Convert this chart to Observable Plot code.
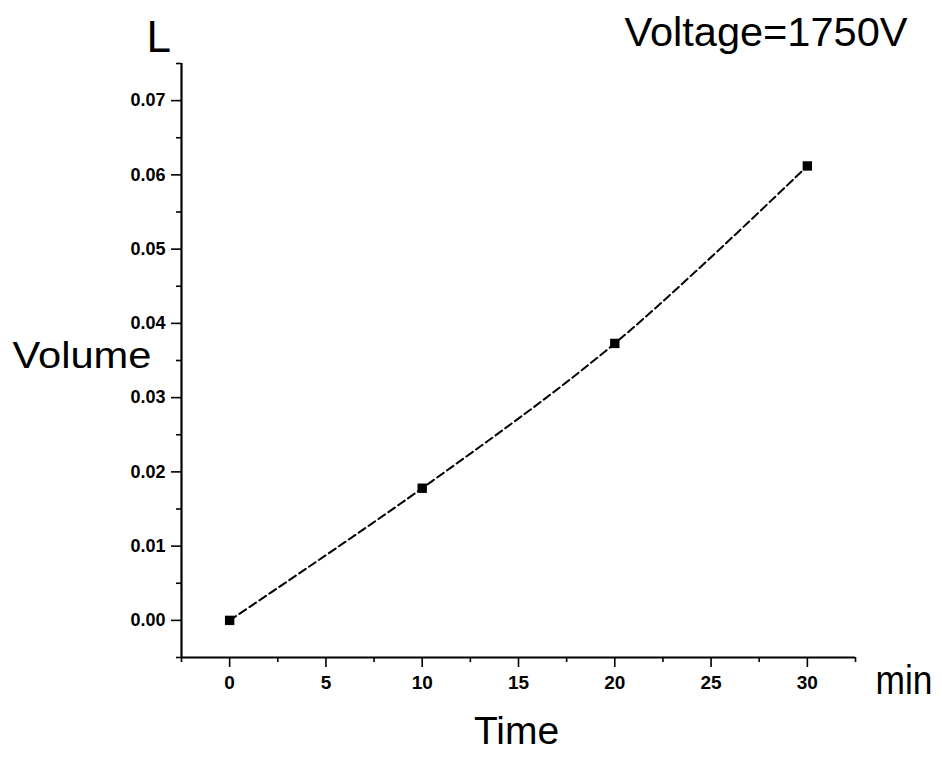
<!DOCTYPE html>
<html>
<head>
<meta charset="utf-8">
<script src="https://cdn.jsdelivr.net/npm/d3@7"></script>
<script src="https://cdn.jsdelivr.net/npm/@observablehq/plot@0.6"></script>
<style>
  html, body { margin: 0; padding: 0; background: #fff; }
  #chart svg { display: block; }
</style>
</head>
<body>
<div id="chart"></div>
<script>
// Data
const timeMin = [0, 10, 20, 30];
const volumeL = [0, 0.0178, 0.0373, 0.0612];

const xMajorTicks = [0, 5, 10, 15, 20, 25, 30];
const xMinorTicks = [-2.5, 2.5, 7.5, 12.5, 17.5, 22.5, 27.5, 32.5];
const yMajorTicks = [0, 0.01, 0.02, 0.03, 0.04, 0.05, 0.06, 0.07];
const yMinorTicks = [-0.005, 0.005, 0.015, 0.025, 0.035, 0.045, 0.055, 0.065, 0.075];

const titleText = ["Voltage=1750V"];
const yUnitText = ["L"];
const xUnitText = ["min"];
const xLabelText = ["Time"];
const yLabelText = ["Volume"];

const xDomain = [-2.5, 32.5];
const yDomain = [-0.005, 0.075];

const data = timeMin.map((t, i) => ({t, v: volumeL[i]}));

const font = "'Liberation Sans', Arial, Helvetica, sans-serif";

const plot = Plot.plot({
  width: 942,
  height: 758,
  marginLeft: 181,
  marginRight: 87,
  marginTop: 63,
  marginBottom: 101,
  style: {fontFamily: font, background: "#fff", color: "#000", overflow: "visible"},
  x: {domain: xDomain, axis: null},
  y: {domain: yDomain, axis: null},
  marks: [
    // minor ticks
    Plot.axisX({ticks: xMinorTicks, tickSize: 5, fill: "none", label: null, strokeWidth: 1.6}),
    Plot.axisY({ticks: yMinorTicks, tickSize: 5, fill: "none", label: null, strokeWidth: 1.6}),
    // major ticks + labels
    Plot.axisX({ticks: xMajorTicks, tickSize: 10, tickPadding: 8, label: null, strokeWidth: 1.6,
      tickFormat: d3.format("d"), fontSize: 19, fontWeight: "bold"}),
    Plot.axisY({ticks: yMajorTicks, tickSize: 10, tickPadding: 6, label: null, strokeWidth: 1.6,
      tickFormat: d3.format(".2f"), fontSize: 18, fontWeight: "bold"}),
    // axis lines
    Plot.ruleX([xDomain[0]], {stroke: "#000", strokeWidth: 2.2}),
    Plot.ruleY([yDomain[0]], {stroke: "#000", strokeWidth: 2.2}),
    // data curve
    Plot.line(data, {x: "t", y: "v", curve: "catmull-rom", stroke: "#000", strokeWidth: 2, strokeDasharray: "8,4"}),
    Plot.dot(data, {x: "t", y: "v", symbol: "square", r: 5.3, fill: "#000", stroke: "none"}),
    // texts
    Plot.text(titleText, {text: d => d, frameAnchor: "top-left", dx: 443, dy: -18, textAnchor: "start", lineAnchor: "bottom", fontSize: 41, fill: "#000"}),
    Plot.text(yUnitText, {text: d => d, frameAnchor: "top-left", dx: -35, dy: -12, textAnchor: "start", lineAnchor: "bottom", fontSize: 44, fill: "#000"}),
    Plot.text(yLabelText, {text: d => d, frameAnchor: "left", dx: -169, dy: 7, textAnchor: "start", lineAnchor: "bottom", fontSize: 36, fill: "#000"}),
    Plot.text(xUnitText, {text: d => d, frameAnchor: "bottom-right", dx: 20, dy: 36, textAnchor: "start", lineAnchor: "bottom", fontSize: 40, fill: "#000"}),
    Plot.text(xLabelText, {text: d => d, frameAnchor: "bottom", dx: -2, dy: 86, textAnchor: "middle", lineAnchor: "bottom", fontSize: 39, fill: "#000"})
  ]
});

document.getElementById("chart").appendChild(plot);

// stretch a few labels to the widths seen in the reference
const widths = {"Volume": 139, "min": 57, "Voltage=1750V": 283};
d3.select(plot).selectAll("text").each(function() {
  const t = this.textContent;
  if (widths[t]) {
    d3.select(this).attr("textLength", widths[t]).attr("lengthAdjust", "spacingAndGlyphs");
  }
});
</script>
</body>
</html>
